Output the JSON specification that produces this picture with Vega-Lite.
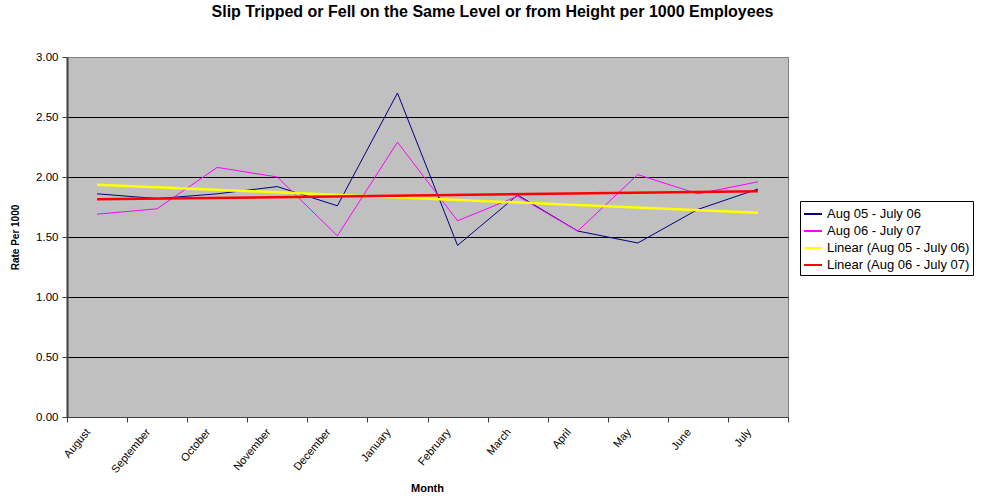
{
  "$schema": "https://vega.github.io/schema/vega-lite/v6.json",
  "width": 721,
  "height": 360,
  "autosize": "none",
  "padding": {"left": 67, "top": 57, "right": 197, "bottom": 83},
  "background": "white",
  "title": {
    "text": "Slip Tripped or Fell on the Same Level or from Height per 1000 Employees",
    "font": "Liberation Sans",
    "fontSize": 16,
    "fontWeight": "bold",
    "color": "black",
    "anchor": "middle",
    "dx": 65,
    "offset": 31
  },
  "datasets": {
    "rates": [
      {"month": "August", "idx": 1, "series": "Aug 05 - July 06", "trend": "Linear (Aug 05 - July 06)", "value": 1.86},
      {"month": "September", "idx": 2, "series": "Aug 05 - July 06", "trend": "Linear (Aug 05 - July 06)", "value": 1.82},
      {"month": "October", "idx": 3, "series": "Aug 05 - July 06", "trend": "Linear (Aug 05 - July 06)", "value": 1.86},
      {"month": "November", "idx": 4, "series": "Aug 05 - July 06", "trend": "Linear (Aug 05 - July 06)", "value": 1.92},
      {"month": "December", "idx": 5, "series": "Aug 05 - July 06", "trend": "Linear (Aug 05 - July 06)", "value": 1.76},
      {"month": "January", "idx": 6, "series": "Aug 05 - July 06", "trend": "Linear (Aug 05 - July 06)", "value": 2.70},
      {"month": "February", "idx": 7, "series": "Aug 05 - July 06", "trend": "Linear (Aug 05 - July 06)", "value": 1.43},
      {"month": "March", "idx": 8, "series": "Aug 05 - July 06", "trend": "Linear (Aug 05 - July 06)", "value": 1.85},
      {"month": "April", "idx": 9, "series": "Aug 05 - July 06", "trend": "Linear (Aug 05 - July 06)", "value": 1.55},
      {"month": "May", "idx": 10, "series": "Aug 05 - July 06", "trend": "Linear (Aug 05 - July 06)", "value": 1.45},
      {"month": "June", "idx": 11, "series": "Aug 05 - July 06", "trend": "Linear (Aug 05 - July 06)", "value": 1.73},
      {"month": "July", "idx": 12, "series": "Aug 05 - July 06", "trend": "Linear (Aug 05 - July 06)", "value": 1.90},
      {"month": "August", "idx": 1, "series": "Aug 06 - July 07", "trend": "Linear (Aug 06 - July 07)", "value": 1.69},
      {"month": "September", "idx": 2, "series": "Aug 06 - July 07", "trend": "Linear (Aug 06 - July 07)", "value": 1.735},
      {"month": "October", "idx": 3, "series": "Aug 06 - July 07", "trend": "Linear (Aug 06 - July 07)", "value": 2.08},
      {"month": "November", "idx": 4, "series": "Aug 06 - July 07", "trend": "Linear (Aug 06 - July 07)", "value": 2.00},
      {"month": "December", "idx": 5, "series": "Aug 06 - July 07", "trend": "Linear (Aug 06 - July 07)", "value": 1.51},
      {"month": "January", "idx": 6, "series": "Aug 06 - July 07", "trend": "Linear (Aug 06 - July 07)", "value": 2.29},
      {"month": "February", "idx": 7, "series": "Aug 06 - July 07", "trend": "Linear (Aug 06 - July 07)", "value": 1.635},
      {"month": "March", "idx": 8, "series": "Aug 06 - July 07", "trend": "Linear (Aug 06 - July 07)", "value": 1.84},
      {"month": "April", "idx": 9, "series": "Aug 06 - July 07", "trend": "Linear (Aug 06 - July 07)", "value": 1.55},
      {"month": "May", "idx": 10, "series": "Aug 06 - July 07", "trend": "Linear (Aug 06 - July 07)", "value": 2.02},
      {"month": "June", "idx": 11, "series": "Aug 06 - July 07", "trend": "Linear (Aug 06 - July 07)", "value": 1.86},
      {"month": "July", "idx": 12, "series": "Aug 06 - July 07", "trend": "Linear (Aug 06 - July 07)", "value": 1.96}
    ]
  },
  "data": {"name": "rates"},
  "encoding": {
    "x": {
      "field": "idx",
      "type": "quantitative",
      "scale": {"domain": [0.5, 12.5], "nice": false, "zero": false},
      "axis": {
        "values": [0.5, 1.5, 2.5, 3.5, 4.5, 5.5, 6.5, 7.5, 8.5, 9.5, 10.5, 11.5, 12.5],
        "labelExpr": "datum.value < 12 ? ['August','September','October','November','December','January','February','March','April','May','June','July'][floor(datum.value)] : ''",
        "labelOffset": 21,
        "labelAngle": -50,
        "labelAlign": "right",
        "labelBaseline": "middle",
        "labelPadding": 8,
        "labelFont": "Liberation Sans",
        "labelFontSize": 11,
        "labelColor": "black",
        "grid": false,
        "tickSize": 5,
        "tickColor": "#404040",
        "domainColor": "#404040",
        "domainWidth": 1,
        "title": "Month",
        "titleFont": "Liberation Sans",
        "titleFontSize": 11,
        "titleFontWeight": "bold",
        "titleColor": "black",
        "titleX": 360,
        "titleY": 71,
        "titleBaseline": "middle"
      }
    },
    "y": {
      "field": "value",
      "type": "quantitative",
      "scale": {"domain": [0, 3], "nice": false},
      "axis": {
        "values": [0, 0.5, 1, 1.5, 2, 2.5, 3],
        "format": ".2f",
        "labelFont": "Liberation Sans",
        "labelFontSize": 11.5,
        "labelColor": "black",
        "labelPadding": 4,
        "tickSize": 5,
        "tickColor": "#404040",
        "domainColor": "#404040",
        "domainWidth": 2,
        "grid": true,
        "gridColor": {"condition": {"test": "datum.value == 3", "value": "#808080"}, "value": "black"},
        "gridWidth": 1,
        "title": "Rate Per 1000",
        "titleFont": "Liberation Sans",
        "titleFontSize": 10,
        "titleFontWeight": "bold",
        "titleColor": "black",
        "titleX": -52,
        "titleY": 180,
        "titleAngle": -90,
        "titleAlign": "center",
        "titleBaseline": "middle"
      }
    }
  },
  "layer": [
    {
      "mark": {"type": "line", "strokeWidth": 1},
      "encoding": {
        "color": {
          "field": "series",
          "type": "nominal",
          "title": null,
          "scale": {
            "domain": ["Aug 05 - July 06", "Aug 06 - July 07", "Linear (Aug 05 - July 06)", "Linear (Aug 06 - July 07)"],
            "range": ["#000080", "#FF00FF", "#FFFF00", "#FF0000"]
          }
        }
      }
    },
    {
      "transform": [{"regression": "value", "on": "idx", "groupby": ["trend"]}],
      "mark": {"type": "line", "strokeWidth": 2.5},
      "encoding": {
        "color": {"field": "trend", "type": "nominal", "title": null}
      }
    }
  ],
  "config": {
    "view": {"fill": "#C0C0C0", "stroke": "#808080", "strokeWidth": 1},
    "legend": {
      "orient": "none",
      "legendX": 733,
      "legendY": 144,
      "strokeColor": "black",
      "fillColor": "white",
      "padding": 3,
      "symbolType": "stroke",
      "symbolSize": 324,
      "symbolStrokeWidth": 2,
      "labelFont": "Liberation Sans",
      "labelFontSize": 13,
      "labelColor": "black",
      "labelOffset": 4,
      "rowPadding": 0,
      "labelLimit": 300
    }
  }
}
